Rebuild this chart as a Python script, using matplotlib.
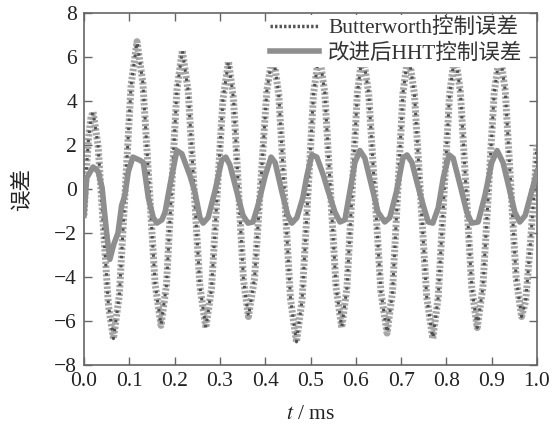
import matplotlib
matplotlib.use("Agg")
import matplotlib.pyplot as plt
from matplotlib.lines import Line2D

# values (time in ms, error)
t_bw = [0.000, 0.005, 0.010, 0.015, 0.020, 0.031, 0.0425, 0.054, 0.065, 0.078,
        0.091, 0.104, 0.117, 0.130, 0.1435, 0.157, 0.170, 0.182, 0.1935, 0.205,
        0.217, 0.230, 0.243, 0.256, 0.269, 0.2815, 0.294, 0.3065, 0.319, 0.330,
        0.341, 0.352, 0.363, 0.3765, 0.390, 0.4035, 0.417, 0.430, 0.443, 0.456,
        0.469, 0.4815, 0.494, 0.5065, 0.519, 0.5315, 0.544, 0.5565, 0.569, 0.5805,
        0.592, 0.6035, 0.615, 0.6285, 0.642, 0.6555, 0.669, 0.681, 0.6925, 0.704,
        0.716, 0.7295, 0.743, 0.7565, 0.770, 0.782, 0.7945, 0.807, 0.819, 0.831,
        0.8435, 0.856, 0.868, 0.8805, 0.893, 0.9055, 0.918, 0.930, 0.942, 0.954,
        0.966, 0.975, 0.985, 0.993, 1.000]
e_bw = [-1.2, 0.8, 2.3, 3.2, 3.5, 2.0, -1.65, -5.3, -6.8, -4.83,
        -0.05, 4.73, 6.7, 4.82, 0.25, -4.32, -6.2, -4.37, 0.05, 4.48,
        6.3, 4.46, 0.0, -4.46, -6.3, -4.53, -0.25, 4.03, 5.8, 4.11,
        0.0, -4.11, -5.8, -4.05, 0.2, 4.45, 6.2, 4.28, -0.38, -5.03,
        -6.95, -5.03, -0.38, 4.28, 6.2, 4.38, -0.05, -4.48, -6.3, -4.48,
        -0.05, 4.38, 6.2, 4.34, -0.18, -4.69, -6.55, -4.69, -0.18, 4.34,
        6.2, 4.30, -0.3, -4.90, -6.8, -4.90, -0.3, 4.30, 6.2, 4.38,
        -0.05, -4.48, -6.3, -4.48, -0.05, 4.38, 6.2, 4.45, 0.2, -4.05,
        -5.8, -5.1, -2.6, -0.3, 2.0]

t_hht = [0.000, 0.006, 0.020, 0.031, 0.040, 0.050, 0.057, 0.066, 0.075, 0.083,
         0.090, 0.098, 0.108, 0.124, 0.131, 0.142, 0.153, 0.161, 0.172, 0.179,
         0.190, 0.205, 0.216, 0.234, 0.245, 0.256, 0.263, 0.274, 0.289, 0.304,
         0.313, 0.322, 0.337, 0.351, 0.362, 0.373, 0.384, 0.400, 0.413, 0.422,
         0.437, 0.450, 0.459, 0.470, 0.483, 0.492, 0.503, 0.514, 0.528, 0.539,
         0.554, 0.565, 0.576, 0.587, 0.598, 0.609, 0.620, 0.636, 0.649, 0.664,
         0.675, 0.690, 0.704, 0.713, 0.724, 0.735, 0.749, 0.760, 0.770, 0.782,
         0.793, 0.806, 0.815, 0.830, 0.845, 0.856, 0.870, 0.885, 0.900, 0.912,
         0.925, 0.940, 0.951, 0.962, 0.974, 0.985, 1.000]
e_hht = [-1.2, 0.5, 1.0, 0.8, 0.05, -2.0, -3.2, -2.5, -2.0, -0.75,
         -0.3, 0.8, 1.45, 1.3, 1.2, -0.4, -1.3, -1.55, -1.4, -1.05,
         0.2, 1.75, 1.6, 0.6, -0.15, -1.3, -1.55, -1.3, -0.1, 1.3,
         1.45, 1.1, -0.1, -1.2, -1.55, -1.5, -0.75, 0.6, 1.45, 1.2,
         -0.15, -1.2, -1.55, -1.3, -0.4, 0.6, 1.55, 1.45, 0.65, -0.1,
         -1.05, -1.5, -1.4, -0.1, 1.2, 1.75, 1.4, 0.05, -1.05, -1.5,
         -1.3, -0.1, 1.4, 1.55, 1.2, 0.3, -0.75, -1.5, -1.55, -0.85,
         0.5, 1.55, 1.4, 0.2, -1.05, -1.55, -1.5, -0.3, 1.2, 1.75,
         1.2, -0.1, -1.05, -1.5, -1.2, -0.35, 0.8]

x_ticks = [0.0, 0.1, 0.2, 0.3, 0.4, 0.5, 0.6, 0.7, 0.8, 0.9, 1.0]
y_ticks = [-8, -6, -4, -2, 0, 2, 4, 6, 8]

plt.rcParams['font.family'] = ['Liberation Serif', 'Noto Sans CJK SC']
plt.rcParams['mathtext.fontset'] = 'stix'
plt.rcParams['font.size'] = 15.5

fig = plt.figure(figsize=(5.52, 4.32), dpi=100)
ax = fig.add_axes([84 / 552, (432 - 365) / 432, (537 - 84) / 552, (365 - 13) / 432])

# Butterworth: thick striped gray with darker dots on top
ax.plot(t_bw, e_bw, color='#a6a6a6', linewidth=5, linestyle=(0, (0.35, 0.25)), zorder=2)
ax.plot(t_bw, e_bw, color='#505050', linewidth=2.2, linestyle=(0, (0.8, 2.2)), zorder=2)
# improved HHT: solid gray
ax.plot(t_hht, e_hht, color='#8e8e8e', linewidth=4, solid_joinstyle='round', zorder=3)

ax.set_xlim(0, 1.0)
ax.set_ylim(-8, 8)
ax.set_xticks(x_ticks)
ax.set_xticklabels([f"{v:.1f}" for v in x_ticks])
ax.set_yticks(y_ticks)
ax.tick_params(direction='in', top=True, right=True, length=6, width=1,
               color='#666666', labelcolor='#222222', pad=5)
for s in ax.spines.values():
    s.set_color('#666666')
    s.set_linewidth(1.2)

ax.set_xlabel(r'$t$ / ms', color='#222222', labelpad=10)
ax.set_ylabel('误差', color='#222222', labelpad=16)

handles = [
    Line2D([], [], color='#555555', linewidth=2.5, linestyle=(0, (0.7, 0.6))),
    Line2D([], [], color='#8e8e8e', linewidth=4),
]
leg = ax.legend(handles, ['Butterworth控制误差', '改进后HHT控制误差'],
                loc='upper right', bbox_to_anchor=(0.975, 0.995),
                frameon=True, facecolor='white', edgecolor='none', framealpha=1,
                fancybox=False, handlelength=2.3, handletextpad=0.4,
                labelspacing=0.25, borderpad=0.15, borderaxespad=0)
leg.set_zorder(5)
for txt in leg.get_texts():
    txt.set_color('#333333')

fig.savefig('out.png', dpi=100)
